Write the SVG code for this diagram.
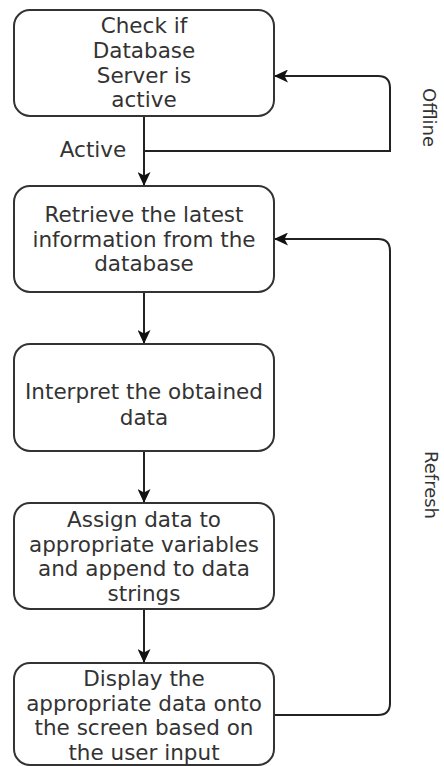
<svg xmlns="http://www.w3.org/2000/svg" width="444" height="766" viewBox="0 0 444 766">
<style>
.box{fill:#fff;stroke:#333;stroke-width:2}
.t{font-family:"DejaVu Sans",Verdana,sans-serif;font-size:21.5px;fill:#333;text-anchor:middle}
.lbl{font-family:"DejaVu Sans",Verdana,sans-serif;font-size:18px;fill:#333;text-anchor:middle}
.c{fill:none;stroke:#222;stroke-width:2}
</style>
<defs>
<marker id="arr" markerUnits="userSpaceOnUse" markerWidth="14" markerHeight="13" viewBox="0 0 14 13" refX="13" refY="6.5" orient="auto">
<path d="M0,0 L14,6.5 L0,13 L3.5,6.5 Z" fill="#111"/>
</marker>
</defs>
<rect width="444" height="766" fill="#fff"/>
<g id="connectors">
<path class="c" d="M144,116 V185" marker-end="url(#arr)"/>
<path class="c" d="M144,292 V343" marker-end="url(#arr)"/>
<path class="c" d="M144,451 V502" marker-end="url(#arr)"/>
<path class="c" d="M144,609 V662" marker-end="url(#arr)"/>
<path class="c" d="M144,151 H390 V88 Q390,76 378,76 H275" marker-end="url(#arr)"/>
<path class="c" d="M274,715 H378 Q390,715 390,703 V251 Q390,239 378,239 H275" marker-end="url(#arr)"/>
</g>
<g id="n1">
<rect class="box" x="14" y="10" width="260" height="106" rx="16"/>
<text class="t" x="144" y="33.3">Check if</text>
<text class="t" x="144" y="57.9">Database</text>
<text class="t" x="144" y="82.5">Server is</text>
<text class="t" x="144" y="107.1">active</text>
</g>
<g id="n2">
<rect class="box" x="14" y="186" width="260" height="106" rx="16"/>
<text class="t" x="144" y="222.3">Retrieve the latest</text>
<text class="t" x="144" y="246.8">information from the</text>
<text class="t" x="144" y="271.2">database</text>
</g>
<g id="n3">
<rect class="box" x="14" y="344" width="260" height="107" rx="16"/>
<text class="t" x="144" y="399">Interpret the obtained</text>
<text class="t" x="144" y="425">data</text>
</g>
<g id="n4">
<rect class="box" x="14" y="503" width="260" height="106" rx="16"/>
<text class="t" x="144" y="527">Assign data to</text>
<text class="t" x="144" y="551.7">appropriate variables</text>
<text class="t" x="144" y="576.4">and append to data</text>
<text class="t" x="144" y="601">strings</text>
</g>
<g id="n5">
<rect class="box" x="14" y="663" width="260" height="102" rx="16"/>
<text class="t" x="144" y="686">Display the</text>
<text class="t" x="144" y="710.6">appropriate data onto</text>
<text class="t" x="144" y="735.2">the screen based on</text>
<text class="t" x="144" y="759.5">the user input</text>
</g>
<g id="labels">
<text class="t" x="93" y="157">Active</text>
<text class="lbl" transform="translate(423,117.5) rotate(90)">Offline</text>
<text class="lbl" transform="translate(425,485) rotate(90)">Refresh</text>
</g>
</svg>
